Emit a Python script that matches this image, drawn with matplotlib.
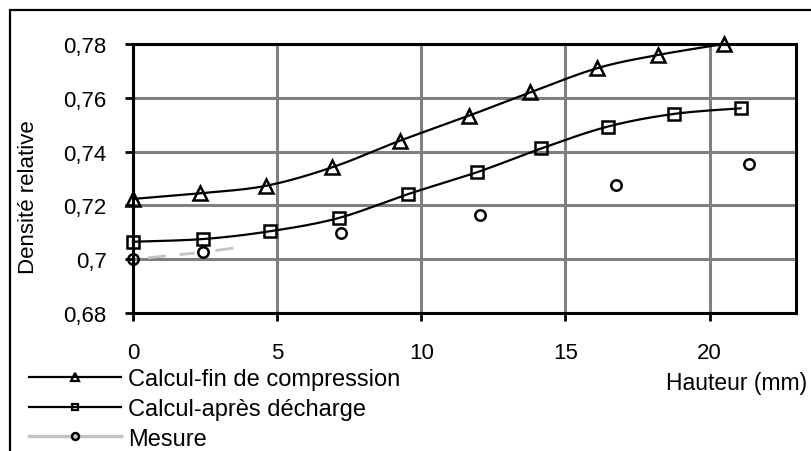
import numpy as np
import matplotlib
matplotlib.use('Agg')
import matplotlib.pyplot as plt
from matplotlib.lines import Line2D
from matplotlib.patches import Rectangle
from matplotlib.ticker import FuncFormatter, MultipleLocator

plt.rcParams['font.family'] = ['Liberation Sans', 'DejaVu Sans']

# données
x_fin = [0, 2.33, 4.62, 6.92, 9.25, 11.64, 13.78, 16.1, 18.2, 20.5]
y_fin = [0.7224, 0.7245, 0.7273, 0.7342, 0.7440, 0.7533, 0.7620, 0.7710, 0.7759, 0.7800]

x_dech = [0, 2.44, 4.76, 7.13, 9.54, 11.93, 14.17, 16.47, 18.76, 21.08]
y_dech = [0.7065, 0.7075, 0.7104, 0.7153, 0.7242, 0.7323, 0.7412, 0.7493, 0.7540, 0.7561]

x_mes = [0, 2.44, 7.21, 12.03, 16.74, 21.36]
y_mes = [0.7000, 0.7026, 0.7096, 0.7166, 0.7276, 0.7354]

labels = ['Calcul-fin de compression', 'Calcul-après décharge', 'Mesure']


#courbe lissée type Excel (Catmull-Rom)
def lisse(x, y, n=20):
    p = np.column_stack([x, y])
    p = np.vstack([p[0], p, p[-1]])
    out = []
    t = np.linspace(0, 1, n)[:, None]
    for i in range(1, len(p) - 2):
        p0, p1, p2, p3 = p[i - 1], p[i], p[i + 1], p[i + 2]
        c = 0.5 * ((2 * p1) + (-p0 + p2) * t + (2 * p0 - 5 * p1 + 4 * p2 - p3) * t ** 2
                   + (-p0 + 3 * p1 - 3 * p2 + p3) * t ** 3)
        out.append(c)
    out = np.vstack(out)
    return out[:, 0], out[:, 1]


fig = plt.figure(figsize=(8.11, 4.52), dpi=100)
ax = fig.add_axes([133 / 811, 1 - 314 / 452, 663 / 811, 269 / 452])

ax.set_xlim(0, 23)
ax.set_ylim(0.68, 0.78)
ax.xaxis.set_major_locator(MultipleLocator(5))
ax.yaxis.set_major_locator(MultipleLocator(0.02))
ax.yaxis.set_major_formatter(FuncFormatter(lambda v, p: '{:g}'.format(round(v, 4)).replace('.', ',')))

ax.grid(True, color='#808080', lw=2.2, zorder=0)
for s in ax.spines.values():
    s.set_linewidth(2.2)
    s.set_zorder(3)
ax.tick_params(axis='both', direction='out', length=6, width=2.0, labelsize=16, color='black')
ax.tick_params(axis='y', pad=13)
ax.tick_params(axis='x', pad=15)

#ligne mesure (grise, seulement quelques tirets visibles)
lw_m = 2.0
f = lw_m * 100 / 72
seq = [18, 14, 15, 21, 18, 415]
seq = [v / f for v in seq]
ax.plot(x_mes[:3], y_mes[:3], color='#c4c4c4', lw=lw_m, linestyle=(sum(seq) - 15 / f, seq),
        zorder=2)

xs, ys = lisse(x_fin, y_fin)
ax.plot(xs, ys, color='black', lw=1.6, zorder=4, clip_on=False)
ax.plot(x_fin, y_fin, ls='none', marker='^', ms=10, mfc='none', mec='black', mew=1.8,
        zorder=5, clip_on=False)

xs, ys = lisse(x_dech, y_dech)
ax.plot(xs, ys, color='black', lw=1.6, zorder=4, clip_on=False)
ax.plot(x_dech, y_dech, ls='none', marker='s', ms=8, mfc='none', mec='black', mew=1.8,
        zorder=5, clip_on=False)

ax.plot(x_mes, y_mes, ls='none', marker='o', ms=7.5, mfc='none', mec='black', mew=1.8,
        zorder=5, clip_on=False)

ax.set_ylabel('Densité relative', fontsize=16, va='center')
ax.yaxis.set_label_coords((29 - 133) / 663, (314 - 197) / 269)
ax.set_xlabel('Hauteur (mm)', fontsize=16.5, ha='right', va='center')
ax.xaxis.set_label_coords((807 - 133) / 663, (314 - 384) / 269)

handles = [
    Line2D([], [], color='black', lw=1.6, marker='^', ms=6, mfc='none', mec='black', mew=1.6),
    Line2D([], [], color='black', lw=1.6, marker='s', ms=5, mfc='none', mec='black', mew=1.6),
    Line2D([], [], color='#c4c4c4', lw=2.5, marker='o', ms=5, mfc='none', mec='black', mew=1.8),
]
fig.legend(handles, labels, loc='upper left', bbox_to_anchor=(29 / 811, 1 - 369 / 452),
           frameon=False, fontsize=17, handlelength=3.9, handletextpad=0.3,
           labelspacing=0.33, borderpad=0, borderaxespad=0)

#cadre extérieur
fig.add_artist(Rectangle((10 / 811, -0.1), 1.2, 1 - 11 / 452 + 0.1, transform=fig.transFigure,
                         fill=False, ec='black', lw=1.6))

fig.savefig('out.png', dpi=100)
